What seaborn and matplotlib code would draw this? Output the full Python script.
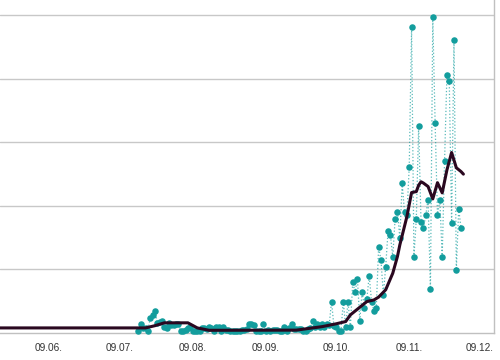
import seaborn as sns
import matplotlib.pyplot as plt
import matplotlib.dates as mdates
import pandas as pd

# daily values (teal dots), starting 17 July
first_day = '2020-07-17'
daily_vals = [
    0.7, 2.9, 1.6, 1.6, 0.7, 4.7, 5.7, 7.0, 3.1, 3.4,
    3.8, 2.0, 1.6, 3.2, 2.5, 2.5, 2.8, 2.8, 0.7, 0.7,
    1.0, 1.6, 2.0, 0.7, 0.7, 0.7, 0.7, 1.6, 1.6, 1.3,
    2.0, 1.6, 0.7, 2.0, 2.0, 0.7, 2.0, 1.0, 1.0, 0.7,
    0.7, 0.7, 0.7, 0.7, 1.0, 1.0, 1.3, 2.9, 2.9, 2.5,
    0.7, 0.7, 0.7, 2.9, 0.7, 1.0, 0.7, 1.0, 1.0, 1.0,
    0.7, 0.7, 2.0, 0.7, 1.6, 2.9, 1.3, 1.3, 1.3, 1.3,
    0.7, 0.7, 1.3, 1.6, 3.9, 1.9, 2.9, 2.0, 2.9, 1.9,
    2.9, 2.5, 9.9, 2.2, 1.9, 0.7, 0.7, 9.9, 1.9, 9.9,
    1.9, 15.9, 13.0, 17.0, 3.9, 13.0, 7.9, 10.8, 18.0, 9.9,
    7.0, 7.9, 27.0, 23.0, 12.0, 20.9, 32.0, 30.9, 23.9, 35.9,
    38.0, 30.0, 47.1, 38.0, 37.0, 52.2, 96.2, 23.9, 35.9, 65.2,
    35.0, 33.0, 37.0, 42.0, 14.0, 99.3, 66.0, 37.0, 41.9, 23.9,
    54.0, 81.2, 79.3, 34.5, 92.2, 19.9, 39.0, 33.0,
]

# smoothed curve (dark line)
avg_dates = ['2020-05-19', '2020-07-20', '2020-07-24', '2020-07-28', '2020-08-07',
             '2020-08-11', '2020-08-16', '2020-09-22', '2020-09-25', '2020-10-03',
             '2020-10-09', '2020-10-13', '2020-10-15', '2020-10-19', '2020-10-22',
             '2020-10-25', '2020-10-27', '2020-10-30', '2020-11-02', '2020-11-04',
             '2020-11-05', '2020-11-08', '2020-11-10', '2020-11-12', '2020-11-13',
             '2020-11-14', '2020-11-15', '2020-11-17', '2020-11-19', '2020-11-21',
             '2020-11-23', '2020-11-25', '2020-11-27', '2020-11-29', '2020-12-01',
             '2020-12-02']
avg_vals = [1.6, 1.6, 2.3, 3.2, 3.2,
            1.6, 0.85, 0.9, 1.2, 2.0,
            2.9, 3.6, 5.7, 8.1, 9.9,
            10.4, 11.3, 13.6, 18.8, 24.1,
            27.7, 36.6, 44.2, 44.5, 46.5,
            47.6, 47.2, 46.1, 42.2, 47.3,
            44.1, 51.3, 56.8, 52.0, 50.8,
            50.0]

tick_dates = ['2020-06-09', '2020-07-09', '2020-08-09', '2020-09-09',
              '2020-10-09', '2020-11-09', '2020-12-09']
tick_labels = ['09.06.', '09.07.', '09.08.', '09.09.', '09.10.', '09.11.', '09.12.']

daily = pd.DataFrame({'date': pd.date_range(first_day, periods=len(daily_vals)),
                      'value': daily_vals})
avg = pd.DataFrame({'date': pd.to_datetime(avg_dates), 'value': avg_vals})

sns.set_style('white')
plt.rcParams['font.family'] = ['Liberation Sans', 'DejaVu Sans']

fig = plt.figure(figsize=(5, 3.6), dpi=100)
ax = fig.add_axes([0, 27 / 360, 494 / 500, 333 / 360])

teal = '#139d9d'
sns.lineplot(data=daily, x='date', y='value', ax=ax, color=teal,
             linestyle=':', linewidth=0.9, alpha=0.7)
sns.scatterplot(data=daily, x='date', y='value', ax=ax, color=teal,
                s=22, linewidth=0, zorder=3, clip_on=False)
sns.lineplot(data=avg, x='date', y='value', ax=ax, color='#2a0820',
             linewidth=2.2, zorder=4)

start = pd.Timestamp('2020-06-09')
ax.set_xlim(start - pd.Timedelta(days=20.8), start + pd.Timedelta(days=189))
ax.set_ylim(0, 104.8)

ax.set_yticks([20, 40, 60, 80, 100])
ax.yaxis.grid(True, color='#c8c8c8', linewidth=1)
ax.tick_params(axis='y', length=0, labelleft=False)

ax.set_xticks(pd.to_datetime(tick_dates))
ax.set_xticklabels(tick_labels, fontsize=7.3, color='#333333')
ax.tick_params(axis='x', length=4, width=0.8, color='#bbbbbb', pad=3)
ax.xaxis.grid(False)

ax.set_xlabel('')
ax.set_ylabel('')
for side in ['top', 'left']:
    ax.spines[side].set_visible(False)
for side in ['bottom', 'right']:
    ax.spines[side].set_color('#c0c0c0')
    ax.spines[side].set_linewidth(1)

fig.savefig('out.png', dpi=100)
